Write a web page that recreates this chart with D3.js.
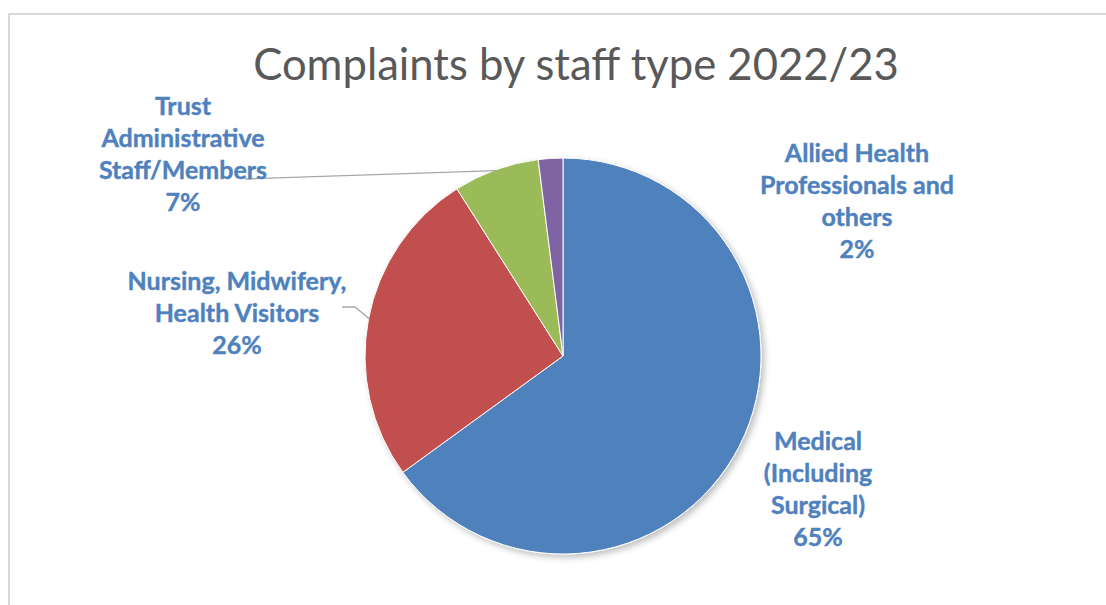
<!DOCTYPE html>
<html>
<head>
<meta charset="utf-8">
<script src="https://cdn.jsdelivr.net/npm/d3@7"></script>
<style>
  html, body { margin: 0; padding: 0; background: #fff; }
  svg { display: block; }
</style>
</head>
<body>
<svg id="chart" width="1106" height="605"></svg>
<script>
// Complaint shares by staff type, 2022/23 (percent)
const categories = [
  "Medical (Including Surgical)",
  "Nursing, Midwifery, Health Visitors",
  "Trust Administrative Staff/Members",
  "Allied Health Professionals and others"
];
const shares = [65, 26, 7, 2];
// Label text, broken into the lines shown on the chart
const labelLines = [
  ["Medical", "(Including", "Surgical)"],
  ["Nursing, Midwifery,", "Health Visitors"],
  ["Trust", "Administrative", "Staff/Members"],
  ["Allied Health", "Professionals and", "others"]
];
const colors = ["#4f81bd", "#c0504d", "#9bbb59", "#8064a2"];
const title = "Complaints by staff type 2022/23";

const W = 1106, H = 605;
const cx = 563, cy = 356, R = 198;
const lineH = 32;

// Label block centres (x, first-line y) and leader settings
const labelLayout = [
  { x: 818, y: 441, leader: null },
  { x: 237, y: 281, leader: { from: [342, 307], elbow: [355, 307] } },
  { x: 183, y: 106, leader: { from: [245, 179], elbow: null } },
  { x: 857, y: 153, leader: null }
];

const svg = d3.select("#chart");

// Chart area frame
svg.append("rect")
  .attr("x", 9).attr("y", 14)
  .attr("width", W + 20).attr("height", H + 20)
  .attr("fill", "#fff")
  .attr("stroke", "#d9d9d9").attr("stroke-width", 2);

const defs = svg.append("defs");
const f = defs.append("filter").attr("id", "pieShadow")
  .attr("x", "-20%").attr("y", "-20%").attr("width", "140%").attr("height", "140%");
f.append("feDropShadow").attr("dx", 3).attr("dy", 3).attr("stdDeviation", 3)
  .attr("flood-color", "#000").attr("flood-opacity", 0.25);

// Title
svg.append("text")
  .attr("x", 576).attr("y", 80)
  .attr("text-anchor", "middle")
  .attr("font-family", "Lato, 'Open Sans', sans-serif")
  .attr("font-size", 43.6)
  .attr("fill", "#595959")
  .text(title);

const pie = d3.pie().sort(null).value(d => d)(shares);
const arc = d3.arc().innerRadius(0).outerRadius(R);

const g = svg.append("g").attr("transform", `translate(${cx},${cy})`);
g.append("g").attr("filter", "url(#pieShadow)")
  .selectAll("path").data(pie).join("path")
  .attr("d", arc)
  .attr("fill", (d, i) => colors[i])
  .attr("stroke", "#fff").attr("stroke-width", 1);

// Leader lines from labels to the slice edges
pie.forEach((d, i) => {
  const L = labelLayout[i].leader;
  if (!L) return;
  const mid = (d.startAngle + d.endAngle) / 2;
  const px = cx + (R - 1) * Math.sin(mid);
  const py = cy - (R - 1) * Math.cos(mid);
  const pts = [L.from];
  if (L.elbow) pts.push(L.elbow);
  pts.push([px, py]);
  svg.append("path")
    .attr("d", d3.line()(pts))
    .attr("fill", "none")
    .attr("stroke", "#a6a6a6").attr("stroke-width", 1.3);
});

// Data labels
pie.forEach((d, i) => {
  const lay = labelLayout[i];
  const lines = labelLines[i].concat([Math.round(d.data) + "%"]);
  const t = svg.append("text")
    .attr("text-anchor", "middle")
    .attr("font-family", "Lato, 'Open Sans', sans-serif")
    .attr("font-weight", "bold")
    .attr("font-size", 25)
    .attr("fill", "#4f81bd")
    .attr("stroke", "#4f81bd").attr("stroke-width", 0.4);
  lines.forEach((s, k) => {
    t.append("tspan")
      .attr("x", lay.x)
      .attr("y", lay.y + k * lineH)
      .attr("dy", "0.35em")
      .text(s);
  });
});
</script>
</body>
</html>
